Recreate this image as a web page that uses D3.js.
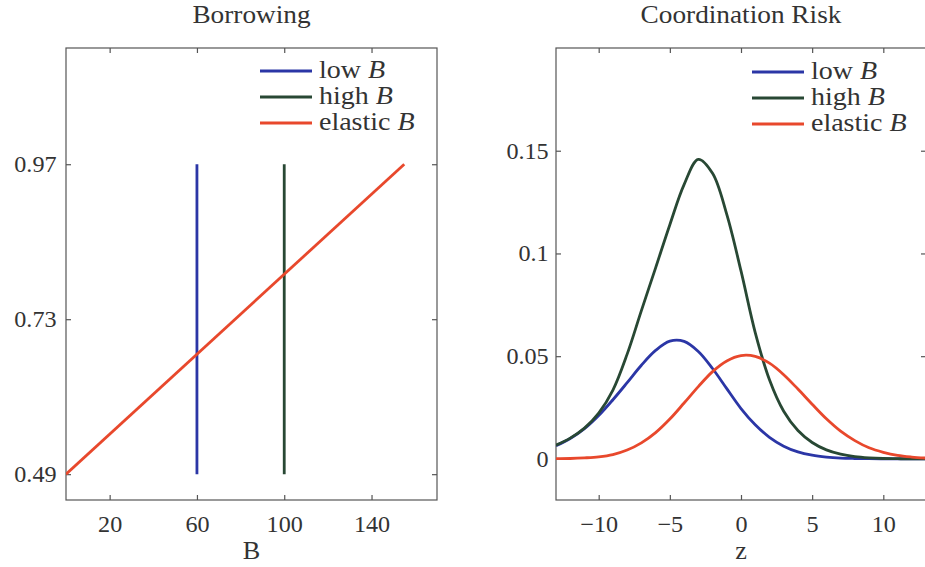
<!DOCTYPE html>
<html>
<head>
<meta charset="utf-8">
<title>Borrowing and coordination risk</title>
<script src="https://d3js.org/d3.v7.min.js"></script>
<style>
  body { margin: 0; background: #fff; }
  text { font-family: "Liberation Serif", "Times New Roman", serif; fill: #333; }
  .frame { fill: none; stroke: #555; stroke-width: 1.2; }
  .tick line { stroke: #555; stroke-width: 1.2; }
  .curve { fill: none; stroke-width: 2.8; }
</style>
</head>
<body>
<div id="chart"></div>

<script>
// series names and colours
const seriesNames = ["low", "high", "elastic"];
const seriesColors = ["#2b36a6", "#284834", "#e8482c"];

// left panel: borrowing
const borrowLowX = [60, 60];
const borrowLowY = [0.49, 0.97];
const borrowHighX = [100, 100];
const borrowHighY = [0.49, 0.97];
const borrowElasticX = [0, 155];
const borrowElasticY = [0.49, 0.97];
const borrowXTicks = [20, 60, 100, 140];
const borrowYTicks = [0.49, 0.73, 0.97];

// right panel: coordination risk at z = -13..13
const riskZ = [-13, -12, -11, -10, -9, -8, -7, -6, -5, -4, -3, -2, -1, 0,
               1, 2, 3, 4, 5, 6, 7, 8, 9, 10, 11, 12, 13];
const riskLow = [0.0064, 0.0099, 0.0147, 0.0211, 0.0288, 0.0371, 0.0456, 0.0528, 0.0573,
                 0.0572, 0.0523, 0.0440, 0.0342, 0.0245, 0.0166, 0.0105, 0.0062, 0.0034,
                 0.0018, 0.0009, 0.0004, 0.0002, 0.0001, 0, 0, 0, 0];
const riskHigh = [0.0067, 0.0101, 0.0150, 0.0223, 0.0335, 0.0510, 0.0722, 0.0930, 0.1140,
                  0.1335, 0.1458, 0.1390, 0.1190, 0.0915, 0.0615, 0.0385, 0.0232, 0.0138,
                  0.0080, 0.0044, 0.0023, 0.0011, 0.0005, 0.0002, 0.0001, 0, 0];
const riskElastic = [0.0001, 0.0002, 0.0005, 0.0010, 0.0021, 0.0043, 0.0078, 0.0128, 0.0194,
                     0.0272, 0.0352, 0.0425, 0.0477, 0.0503, 0.0499, 0.0466, 0.0410, 0.0340,
                     0.0266, 0.0195, 0.0135, 0.0089, 0.0054, 0.0032, 0.0017, 0.0009, 0.0004];
const riskXTicks = [-10, -5, 0, 5, 10];
const riskYTicks = [0, 0.05, 0.1, 0.15];

const W = 925, H = 567;
const sx = 1.05; // glyphs in the picture are a bit wider than Times

const svg = d3.select("#chart").append("svg")
    .attr("width", W)
    .attr("height", H);

// one boxed panel, ticks pointing inwards on all four sides
function panel(opt) {
    const x = d3.scaleLinear().domain(opt.xDomain).range([opt.left, opt.right]);
    const y = d3.scaleLinear().domain(opt.yDomain).range([opt.bottom, opt.top]);
    const fmt = d3.format("~g");
    const g = svg.append("g");

    g.append("g")
        .attr("transform", `translate(0,${opt.bottom})`)
        .call(d3.axisBottom(x).tickValues(opt.xTicks).tickFormat(fmt)
            .tickSizeInner(-5).tickSizeOuter(0).tickPadding(16))
        .call(a => a.select(".domain").remove())
        .selectAll("text")
            .attr("transform", `scale(${sx},1)`)
            .style("font-size", "23px");

    g.append("g")
        .attr("transform", `translate(${opt.left},0)`)
        .call(d3.axisLeft(y).tickValues(opt.yTicks).tickFormat(fmt)
            .tickSizeInner(-5).tickSizeOuter(0).tickPadding(opt.yPad))
        .call(a => a.select(".domain").remove())
        .selectAll("text")
            .attr("transform", `scale(${sx},1)`)
            .style("font-size", "23px");

    g.append("g")
        .attr("transform", `translate(0,${opt.top})`)
        .call(d3.axisTop(x).tickValues(opt.xTicks).tickFormat("")
            .tickSizeInner(-5).tickSizeOuter(0))
        .call(a => a.select(".domain").remove());

    g.append("g")
        .attr("transform", `translate(${opt.right},0)`)
        .call(d3.axisRight(y).tickValues(opt.yTicks).tickFormat("")
            .tickSizeInner(-5).tickSizeOuter(0))
        .call(a => a.select(".domain").remove());

    g.append("rect")
        .attr("class", "frame")
        .attr("x", opt.left)
        .attr("y", opt.top)
        .attr("width", opt.right - opt.left)
        .attr("height", opt.bottom - opt.top);

    const cx = (opt.left + opt.right) / 2;

    g.append("text")
        .attr("transform", `translate(${cx},23) scale(${sx},1)`)
        .attr("text-anchor", "middle")
        .style("font-size", "26px")
        .text(opt.title);

    g.append("text")
        .attr("transform", `translate(${cx},559) scale(${sx},1)`)
        .attr("text-anchor", "middle")
        .style("font-size", "25px")
        .text(opt.xLabel);

    // curves
    const clip = "clip" + opt.id;
    g.append("clipPath").attr("id", clip)
        .append("rect")
            .attr("x", opt.left).attr("y", opt.top)
            .attr("width", opt.right - opt.left).attr("height", opt.bottom - opt.top);

    const line = d3.line()
        .x(d => x(d[0]))
        .y(d => y(d[1]))
        .curve(opt.curve);

    opt.series.forEach((s, i) => {
        g.append("path")
            .attr("class", "curve")
            .attr("clip-path", `url(#${clip})`)
            .attr("stroke", seriesColors[i])
            .attr("d", line(d3.zip(s.x, s.y)));
    });

    // legend
    seriesNames.forEach((name, i) => {
        const ly = opt.legendY + i * 26;
        g.append("line")
            .attr("x1", opt.legendX).attr("x2", opt.legendX + 52)
            .attr("y1", ly).attr("y2", ly)
            .attr("stroke", seriesColors[i])
            .attr("stroke-width", 2.8);
        const t = g.append("text")
            .attr("transform", `translate(${opt.legendX + 59},${ly + 7}) scale(1.12,1)`)
            .style("font-size", "25px");
        t.append("tspan").text(name + " ");
        t.append("tspan").style("font-style", "italic").text("B");
    });
}

panel({
    id: "borrow",
    left: 66, right: 437, top: 48, bottom: 500,
    xDomain: [0, 170], yDomain: [0.45, 1.15],
    xTicks: borrowXTicks, yTicks: borrowYTicks, yPad: 9,
    title: "Borrowing", xLabel: "B",
    curve: d3.curveLinear,
    series: [
        {x: borrowLowX, y: borrowLowY},
        {x: borrowHighX, y: borrowHighY},
        {x: borrowElasticX, y: borrowElasticY}
    ],
    legendX: 260, legendY: 71
});

panel({
    id: "risk",
    left: 556, right: 926, top: 48, bottom: 500,
    xDomain: [-13, 13], yDomain: [-0.02, 0.2],
    xTicks: riskXTicks, yTicks: riskYTicks, yPad: 7,
    title: "Coordination Risk", xLabel: "z",
    curve: d3.curveCatmullRom.alpha(0.5),
    series: [
        {x: riskZ, y: riskLow},
        {x: riskZ, y: riskHigh},
        {x: riskZ, y: riskElastic}
    ],
    legendX: 752, legendY: 72
});
</script>
</body>
</html>
